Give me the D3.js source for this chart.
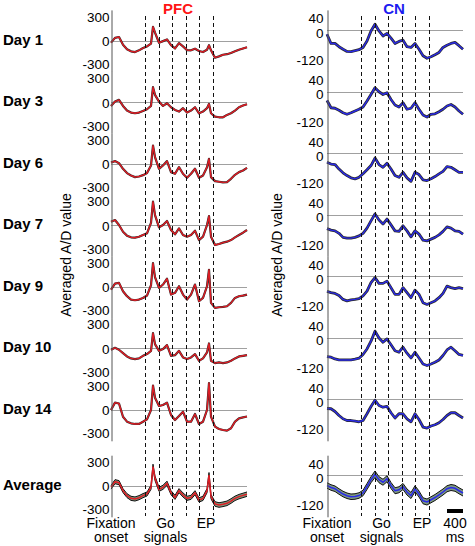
<!DOCTYPE html>
<html><head><meta charset="utf-8">
<script src="https://cdn.jsdelivr.net/npm/d3@7"></script>
<style>body{margin:0;background:#fff} svg text{font-family:"Liberation Sans",Arial,Helvetica,sans-serif}</style>
</head><body><svg id="c" width="475" height="546"></svg>
<script>
// ---------- data ----------
const rowLabels = ['Day 1','Day 3','Day 6','Day 7','Day 9','Day 10','Day 14','Average'];
const eventMs = [850,1200,1525,1875,2200,2550];
const pfcTicks = [-300,0,300];
const cnTicks = [-120,0,40];

const pfcTime = [0,100,200,300,400,500,600,700,800,900,1000,1050,1100,1200,1300,1400,1500,1600,1700,1800,1900,2000,2100,2200,2300,2400,2450,2500,2600,2700,2800,2900,3000,3100,3200,3300,3400];
const pfcDay1  = [-24,35,45,-50,-105,-130,-139,-118,-90,-70,-35,170,100,-25,-5,15,-55,-95,-30,-70,-115,-118,-98,-126,-139,-110,-55,-118,-208,-192,-172,-165,-150,-130,-110,-95,-80];
const pfcDay3  = [-45,8,29,-45,-102,-126,-135,-126,-106,-86,-45,184,90,8,-45,-12,-61,-94,-114,-73,-126,-102,-61,-135,-114,-73,-20,-135,-176,-184,-184,-155,-135,-102,-61,-40,-25];
const pfcDay6  = [16,33,8,-61,-114,-143,-163,-155,-139,-114,-20,224,82,-61,-20,33,-102,-122,-41,-122,-171,-122,-61,-171,-143,-41,61,-163,-212,-220,-228,-224,-184,-135,-102,-82,-49];
const pfcDay7  = [45,65,4,-78,-126,-147,-151,-139,-118,-98,30,290,126,-24,4,53,-57,-110,-37,-118,-139,-118,-65,-180,-139,4,114,-139,-240,-228,-212,-200,-180,-147,-118,-90,-57];
const pfcDay9  = [-33,41,49,-53,-114,-155,-163,-155,-135,-106,20,290,120,-12,29,100,-94,-73,8,-94,-155,-94,29,-175,-135,8,210,-196,-257,-249,-245,-237,-196,-135,-114,-106,-94];
const pfcDay10 = [-16,8,-16,-57,-98,-122,-130,-122,-90,-69,-30,188,53,-29,-8,41,-90,-82,-29,-110,-130,-110,-69,-151,-122,-49,61,-151,-180,-171,-180,-171,-151,-122,-98,-90,-82];
const pfcDay14 = [0,90,80,-82,-143,-163,-171,-171,-143,-114,0,300,150,49,61,90,-61,-122,-73,-20,-143,-143,-49,-171,-143,0,330,-82,-204,-233,-245,-253,-224,-143,-102,-90,-80];
const pfcAvg   = [-16,53,41,-57,-118,-151,-159,-143,-118,-98,-16,237,94,-41,-16,33,-82,-139,-57,-110,-151,-139,-82,-171,-151,-57,135,-130,-220,-233,-224,-212,-184,-151,-130,-115,-100];
const pfcAvgSE = [22,25,25,24,24,25,25,25,25,24,25,30,28,25,25,26,25,25,25,25,25,25,25,26,26,26,30,27,28,28,28,28,28,27,27,27,27];

const cnTime = [0,100,200,300,400,500,600,700,800,900,1000,1100,1200,1300,1400,1500,1600,1700,1800,1900,2000,2100,2200,2300,2400,2500,2600,2700,2800,2900,3000,3100,3200,3300,3400];
const cnDay1  = [-16,-53,-53,-66,-76,-85,-86,-82,-78,-69,-43,-3,24,-3,-23,-13,-32,-53,-45,-40,-66,-69,-53,-76,-102,-112,-106,-98,-89,-69,-60,-53,-49,-62,-76];
const cnDay3  = [-35,-64,-66,-74,-84,-90,-84,-77,-70,-61,-37,-11,16,0,-11,-4,-31,-53,-61,-44,-70,-66,-44,-70,-93,-101,-90,-88,-80,-70,-57,-51,-61,-77,-90];
const cnDay6  = [-36,-43,-45,-63,-78,-89,-98,-102,-96,-82,-66,-49,-19,-45,-56,-40,-63,-89,-96,-76,-98,-112,-76,-85,-106,-109,-102,-93,-82,-72,-53,-56,-66,-76,-76];
const cnDay7  = [-55,-61,-64,-74,-90,-93,-93,-90,-84,-74,-53,-24,3,-21,-37,-17,-40,-64,-66,-44,-64,-88,-64,-77,-101,-104,-97,-90,-80,-66,-48,-53,-64,-66,-77];
const cnDay9  = [-60,-65,-68,-76,-92,-98,-94,-92,-89,-78,-59,-25,-5,-28,-28,-19,-45,-72,-72,-45,-65,-85,-55,-72,-105,-112,-105,-98,-85,-68,-39,-45,-49,-45,-49];
const cnDay10 = [-75,-77,-84,-88,-88,-88,-88,-85,-81,-66,-44,-13,27,0,-17,-4,-27,-51,-57,-37,-61,-80,-57,-80,-104,-110,-104,-97,-88,-70,-48,-37,-51,-66,-70];
const cnDay14 = [-36,-37,-48,-64,-77,-84,-84,-86,-89,-84,-57,-28,-3,-24,-31,-28,-53,-74,-57,-57,-77,-89,-57,-80,-110,-114,-106,-101,-93,-80,-64,-53,-53,-64,-74];
const cnAvg   = [-40,-48,-53,-64,-74,-81,-85,-84,-80,-70,-44,-17,5,-17,-27,-13,-40,-61,-57,-44,-66,-80,-53,-74,-101,-106,-97,-88,-77,-66,-53,-48,-51,-61,-70];
const cnAvgSE = [11,11,11,11,11,11,11,11,11,11,12,12,13,12,12,12,12,12,12,12,12,12,12,12,12,12,12,12,12,12,12,12,12,12,12];

const pfcDays = [pfcDay1,pfcDay3,pfcDay6,pfcDay7,pfcDay9,pfcDay10,pfcDay14];
const cnDays  = [cnDay1,cnDay3,cnDay6,cnDay7,cnDay9,cnDay10,cnDay14];

// ---------- layout ----------
const svg = d3.select('#c');
const font = '"Liberation Sans",Arial,sans-serif';
const rowZero = i => i < 7 ? 40.7 + 61.55 * i : 486;
const half = 30.8;
const cols = [
  {key:'pfc', left:111, data:pfcDays, avg:pfcAvg, se:pfcAvgSE, time:pfcTime, dom:[-377,377], ticks:pfcTicks, col:'#de1c24', title:'PFC', tcol:'#ff1414', ylab:66, pad:2},
  {key:'cn',  left:327, data:cnDays,  avg:cnAvg,  se:cnAvgSE,  time:cnTime,  dom:[-165,81],  ticks:cnTicks,  col:'#2a2ae6', title:'CN',  tcol:'#1c1cf0', ylab:277, pad:4}
];
const plotW = 136;
const tickNudge = {pfc:{'300':0.5,'0':0.5,'-300':-1}, cn:{'40':-1.5,'0':2.5,'-120':0}};

function twoLine(xp, l1, l2) {
  svg.append('text').attr('x', xp).attr('y', 528).attr('text-anchor', 'middle')
    .attr('font-size', 14).attr('fill', '#000').text(l1);
  if (l2) svg.append('text').attr('x', xp).attr('y', 542).attr('text-anchor', 'middle')
    .attr('font-size', 14).attr('fill', '#000').text(l2);
}

cols.forEach(c => {
  const x = d3.scaleLinear().domain([0,3400]).range([c.left, c.left + plotW]);
  c.x = x;
  for (let i = 0; i < 8; i++) {
    const z = rowZero(i);
    const y = d3.scaleLinear().domain(c.dom).range([z + half, z - half]);
    const g = svg.append('g');
    const zy = Math.round(y(0)) + 0.5;
    g.append('line').attr('x1', x(0)).attr('x2', x(3400)).attr('y1', zy).attr('y2', zy)
      .attr('stroke', '#a0a0a0').attr('stroke-width', 1);
    const line = d3.line().x((d, k) => x(c.time[k])).y(d => y(d));
    if (i < 7) {
      const vals = c.data[i];
      g.append('path').datum(vals).attr('d', line).attr('fill', 'none')
        .attr('stroke', '#2a2a2a').attr('stroke-width', c.key === 'cn' ? 2.8 : 2.2).attr('stroke-linejoin', 'round');
      g.append('path').datum(vals).attr('d', line).attr('fill', 'none')
        .attr('stroke', c.col).attr('stroke-width', 1.4).attr('stroke-linejoin', 'round');
    } else {
      const area = d3.area().x((d, k) => x(c.time[k]))
        .y0((d, k) => y(d - c.se[k])).y1((d, k) => y(d + c.se[k]));
      g.append('path').datum(c.avg).attr('d', area).attr('fill', '#7f9b80');
      const lo = d3.line().x((d, k) => x(c.time[k])).y((d, k) => y(d - c.se[k]));
      const hi = d3.line().x((d, k) => x(c.time[k])).y((d, k) => y(d + c.se[k]));
      g.append('path').datum(c.avg).attr('d', lo).attr('fill', 'none').attr('stroke', '#111').attr('stroke-width', 1);
      g.append('path').datum(c.avg).attr('d', hi).attr('fill', 'none').attr('stroke', '#111').attr('stroke-width', 1);
      g.append('path').datum(c.avg).attr('d', line).attr('fill', 'none')
        .attr('stroke', c.col).attr('stroke-width', 1.5);
    }
    const ax = svg.append('g').attr('transform', `translate(${Math.round(x(0)) + 0.5},0)`)
      .call(d3.axisLeft(y).tickValues(c.ticks).tickSize(0).tickPadding(c.pad).tickFormat(d => String(d)));
    ax.select('.domain').attr('stroke', '#555').attr('stroke-width', 1);
    ax.selectAll('text').attr('font-size', 13.5).attr('fill', '#000').attr('font-family', font)
      .attr('transform', d => `translate(0,${tickNudge[c.key][String(d)] || 0})`);
  }
  svg.append('g').selectAll('line').data(eventMs).join('line')
    .attr('x1', d => Math.round(x(d)) + 0.5).attr('x2', d => Math.round(x(d)) + 0.5).attr('y1', 16).attr('y2', 516)
    .attr('stroke', '#111').attr('stroke-width', 1).attr('stroke-dasharray', '4,3');
  svg.append('text').attr('x', (x(0) + x(3400)) / 2 - 1).attr('y', 14).attr('text-anchor', 'middle')
    .attr('font-size', 15).attr('font-weight', 'bold').attr('fill', c.tcol).text(c.title);
  svg.append('text').attr('transform', `translate(${c.ylab + 5},255) rotate(-90)`).attr('text-anchor', 'middle')
    .attr('font-size', 14).attr('fill', '#000').text('Averaged A/D value');
  twoLine(x(0), 'Fixation', 'onset');
  twoLine((x(eventMs[1]) + x(eventMs[2])) / 2, 'Go', 'signals');
  twoLine((x(eventMs[4]) + x(eventMs[5])) / 2, 'EP', null);
});

rowLabels.forEach((t, i) => {
  svg.append('text').attr('x', 3).attr('y', rowZero(i) + 4).attr('font-size', 15)
    .attr('font-weight', 'bold').attr('fill', '#000').text(t);
});

const xc = cols[1].x;
svg.append('rect').attr('x', xc(3000)).attr('width', xc(3400) - xc(3000)).attr('y', 509).attr('height', 4).attr('fill', '#000');
twoLine(xc(3200), '400', 'ms');
</script></body></html>
